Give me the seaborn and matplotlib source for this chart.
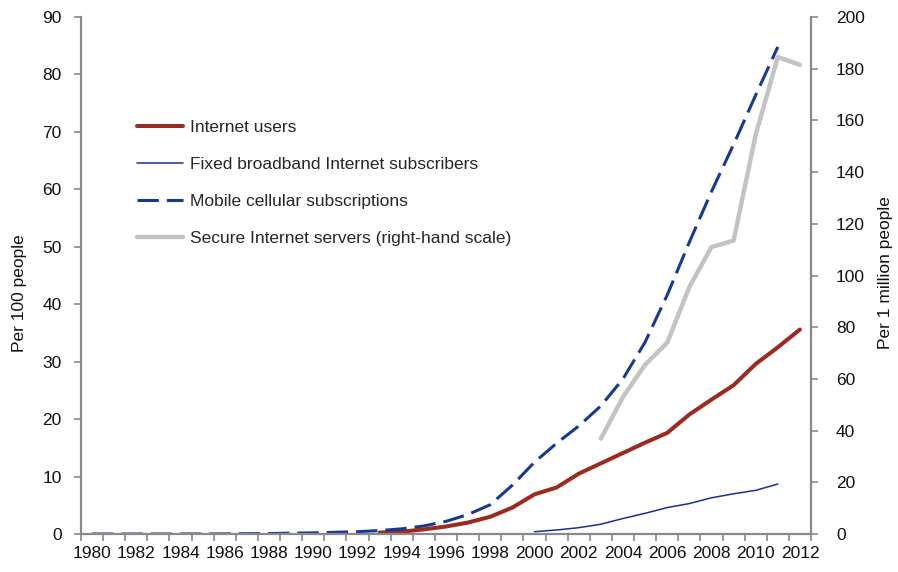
import numpy as np
import pandas as pd
import matplotlib
matplotlib.use("Agg")
import matplotlib.pyplot as plt
import seaborn as sns

# Values
years = list(range(1980, 2013))

internet_years = list(range(1993, 2013))
internet_users = [0.25, 0.4, 0.8, 1.3, 2.0, 3.0, 4.6, 6.9, 8.1, 10.5,
                  12.3, 14.1, 15.9, 17.6, 20.8, 23.4, 25.9, 29.6, 32.5, 35.6]

broadband_years = list(range(2000, 2012))
broadband = [0.4, 0.7, 1.1, 1.7, 2.7, 3.6, 4.6, 5.3, 6.3, 7.0, 7.6, 8.7]

mobile_years = list(range(1980, 2012))
mobile = [0.0, 0.0, 0.0, 0.0, 0.0, 0.01, 0.02, 0.05, 0.08, 0.15,
          0.2, 0.3, 0.4, 0.6, 0.9, 1.4, 2.2, 3.4, 5.1, 8.5,
          12.5, 15.8, 18.8, 22.3, 27.0, 33.4, 41.6, 50.8, 59.6, 67.8,
          76.4, 84.8]

servers_years = list(range(2003, 2013))
servers = [36.9, 53.0, 65.5, 74.0, 95.5, 111.0, 113.5, 154.5, 184.5, 181.5]

left_ticks = list(range(0, 91, 10))
right_ticks = list(range(0, 201, 20))

# Style
sns.set_theme(style="white")
plt.rcParams['font.family'] = ['Liberation Sans', 'DejaVu Sans']
axis_grey = '#898989'
text_col = '#111111'
fs = 12.5

fig = plt.figure(figsize=(8.98, 5.72), dpi=100)
ax = fig.add_axes([81 / 898, 38 / 572, 730 / 898, 517 / 572])
ax2 = ax.twinx()

sns.lineplot(x=internet_years, y=internet_users, ax=ax, color='#9C2A1E',
             linewidth=2.9, label='Internet users')
sns.lineplot(x=broadband_years, y=broadband, ax=ax, color='#1B2F8F',
             linewidth=1.1, label='Fixed broadband Internet subscribers')
sns.lineplot(x=mobile_years, y=mobile, ax=ax, color='#163A94',
             linewidth=2.2, label='Mobile cellular subscriptions')
ax.lines[-1].set_dashes([7, 2.6])
sns.lineplot(x=servers_years, y=servers, ax=ax2, color='#C3C3C3',
             linewidth=3.2, label='Secure Internet servers (right-hand scale)')

for a in (ax, ax2):
    if a.get_legend() is not None:
        a.get_legend().remove()

# Axes
ax.set_xlim(years[0] - 0.5, years[-1] + 0.5)
ax.set_ylim(0, 90)
ax2.set_ylim(0, 200)
ax.set_yticks(left_ticks)
ax2.set_yticks(right_ticks)
ax.set_xticks(np.arange(years[0] - 0.5, years[-1] + 1, 1))
ax.set_xticklabels([])
ax.set_xticks(years[::2], minor=True)
ax.set_xticklabels([str(y) for y in years[::2]], minor=True)

ax.tick_params(axis='x', which='major', length=5, width=1.2, color=axis_grey, direction='out', bottom=True)
ax.tick_params(axis='x', which='minor', length=0, pad=9, labelsize=fs, labelcolor=text_col)
ax.tick_params(axis='y', length=5, width=1.2, color=axis_grey, direction='out', left=True, pad=9,
               labelsize=fs, labelcolor=text_col)
ax2.tick_params(axis='y', length=5, width=1.2, color=axis_grey, direction='out', right=True, pad=13,
                labelsize=fs, labelcolor=text_col)

for a in (ax, ax2):
    a.spines['top'].set_visible(False)
    for side in ('left', 'right', 'bottom'):
        a.spines[side].set_color(axis_grey)
        a.spines[side].set_linewidth(1.6)
ax.spines['right'].set_visible(False)
ax2.spines['left'].set_visible(False)
ax2.spines['bottom'].set_visible(False)

ax.set_xlabel('')
ax.set_ylabel('Per 100 people', fontsize=fs, color=text_col)
ax2.set_ylabel('Per 1 million people', fontsize=fs, color=text_col)
ax.yaxis.set_label_coords(-0.074, 0.466)
ax2.yaxis.set_label_coords(1.092, 0.505)

# Legend
handles, labels = ax.get_legend_handles_labels()
h2, l2 = ax2.get_legend_handles_labels()
fig.legend(handles + h2, labels + l2, loc='upper left',
           bbox_to_anchor=(137 / 898, 1 - 120 / 572), frameon=False,
           fontsize=fs, handlelength=2.65, handletextpad=0.4,
           labelspacing=1.25, borderpad=0, borderaxespad=0)

fig.savefig('out.png', dpi=100)
